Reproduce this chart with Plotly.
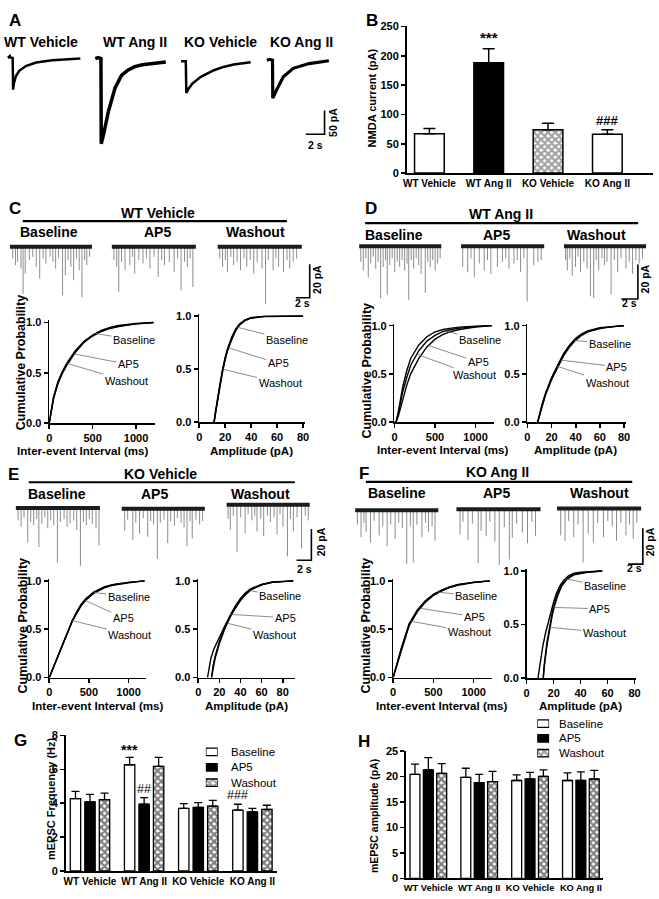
import numpy as np
import plotly.graph_objects as go

W, H = 659, 899
FONT = "Liberation Sans, Arial, Helvetica, sans-serif"

# ====================== DATA ======================
# Panel A: NMDA-evoked currents (time s, current pA)
a_titles = ["WT Vehicle", "WT Ang II", "KO Vehicle", "KO Ang II"]
a_wt_veh_t = [0, 0.2, 0.25, 0.5, 0.55, 0.62, 0.85, 1.2, 1.9, 3.0, 4.7, 6.4, 7.7]
a_wt_veh_i = [0, 4, 1, 0, -67, -55, -38, -27, -17, -9.5, -5, -2.5, -1]
a_wt_ang_t = [0, 0.3, 0.6, 0.63, 0.88, 1.4, 2.1, 2.8, 3.5, 4.2, 5.0, 6.0, 7.5]
a_wt_ang_i = [0, 2, 0, -180, -160, -111, -62, -35, -24, -17, -13, -10, -7]
a_ko_veh_t = [0, 0.35, 0.5, 0.56, 0.8, 1.2, 2.1, 3.5, 4.5, 5.6, 7.4]
a_ko_veh_i = [0, 0, 0, -67, -58, -47, -33, -19, -12, -7, -2]
a_ko_ang_t = [0, 0.3, 0.6, 0.63, 1.05, 1.75, 2.8, 4.5, 6.6]
a_ko_ang_i = [0, 2, 0, -80, -62, -35, -17, -7, -1]

# Panel B: NMDA current (pA)
groups = ["WT Vehicle", "WT Ang II", "KO Vehicle", "KO Ang II"]
b_mean = [67, 188, 74, 66]
b_sem = [9, 24, 11, 8]

# Panels C-F: mEPSC events (time s, amplitude pA) for Baseline / AP5 / Washout
c_base_t = [0.4, 0.8, 1.1, 1.6, 1.9, 2.2, 2.8, 3.3, 3.8, 4.3, 4.8, 5.2, 5.8, 6.2, 6.6, 7.0, 7.6, 8.0, 8.4, 8.8, 9.2, 9.6, 10.0, 10.4, 10.8, 11.1, 11.5]
c_base_a = [7, 11, 9, 13, 28, 16, 8, 6, 12, 19, 7, 10, 6, 9, 13, 7, 29, 17, 8, 12, 20, 7, 14, 30, 8, 11, 6]
c_ap5_t = [0.3, 0.7, 1.0, 1.4, 1.9, 2.6, 3.0, 3.3, 3.9, 4.5, 5.0, 5.5, 6.1, 6.7, 7.2, 7.6, 8.3, 9.0, 9.5, 10.0, 10.5, 10.9, 11.3, 11.7]
c_ap5_a = [8, 12, 27, 9, 14, 11, 6, 16, 8, 10, 7, 13, 6, 18, 8, 11, 9, 15, 7, 26, 9, 12, 7, 24]
c_wash_t = [0.3, 0.7, 1.1, 1.4, 1.9, 2.3, 2.8, 3.3, 3.8, 4.2, 4.7, 5.2, 5.7, 6.4, 6.9, 7.3, 8.0, 8.4, 8.8, 9.5, 10.0, 10.4, 10.9, 11.4]
c_wash_a = [7, 12, 8, 15, 6, 11, 9, 14, 7, 12, 8, 16, 9, 13, 34, 8, 14, 7, 12, 15, 8, 13, 9, 7]

d_base_t = [0.2, 0.5, 0.8, 1.1, 1.4, 1.7, 2.0, 2.3, 2.6, 2.9, 3.2, 3.4, 3.7, 4.0, 4.3, 4.6, 4.9, 5.2, 5.5, 5.8, 6.0, 6.3, 6.6, 6.9, 7.2, 7.5, 8.0, 8.3, 8.6, 8.9, 9.2, 9.5, 9.8]
d_base_a = [9, 14, 7, 18, 10, 6, 13, 9, 30, 12, 8, 28, 11, 7, 15, 9, 12, 8, 14, 10, 31, 8, 13, 7, 11, 16, 27, 9, 12, 8, 14, 10, 7]
d_ap5_t = [0.2, 0.8, 1.2, 1.6, 2.2, 2.8, 3.2, 3.6, 4.4, 5.0, 5.4, 5.8, 6.4, 6.8, 7.2, 7.6, 8.0, 8.8, 9.3, 9.7]
d_ap5_a = [12, 15, 7, 18, 10, 14, 8, 16, 12, 9, 7, 13, 10, 8, 15, 7, 32, 11, 9, 8]
d_wash_t = [0.2, 0.4, 0.7, 1.0, 1.4, 1.7, 2.0, 2.4, 2.8, 3.2, 3.6, 3.9, 4.2, 4.6, 4.9, 5.2, 5.7, 6.1, 6.5, 6.9, 7.5, 7.9, 8.3, 8.7, 9.1, 9.5]
d_wash_a = [8, 14, 7, 17, 12, 6, 15, 9, 13, 29, 30, 8, 14, 7, 11, 9, 28, 8, 15, 7, 13, 9, 16, 8, 10, 7]

e_base_t = [0.3, 0.7, 1.1, 1.6, 2.0, 2.4, 2.8, 3.1, 3.5, 3.9, 4.3, 4.7, 5.1, 5.6, 6.0, 6.5, 6.9, 7.3, 7.8, 8.2, 8.7, 9.1, 9.5, 9.9, 10.3, 10.8, 11.2]
e_base_a = [8, 12, 6, 22, 9, 11, 7, 25, 10, 6, 13, 8, 11, 35, 9, 7, 12, 10, 8, 14, 37, 9, 11, 7, 10, 13, 24]
e_ap5_t = [0.4, 0.8, 1.5, 1.9, 2.4, 2.9, 3.5, 3.9, 4.3, 4.8, 5.2, 5.7, 6.2, 6.6, 7.1, 7.5, 8.0, 8.4, 8.8, 9.2, 9.5, 10.0, 10.5, 10.9]
e_ap5_a = [14, 7, 20, 9, 16, 6, 18, 8, 10, 32, 9, 7, 22, 8, 11, 6, 9, 12, 24, 8, 19, 7, 10, 8]
e_wash_t = [0.2, 0.5, 0.9, 1.4, 1.9, 2.5, 2.9, 3.4, 3.8, 4.1, 4.6, 5.0, 5.5, 5.9, 6.4, 6.8, 7.2, 7.6, 8.2, 8.6, 9.0, 9.5, 10.1, 10.6, 11.0]
e_wash_a = [9, 16, 7, 30, 8, 18, 6, 10, 7, 17, 9, 20, 7, 11, 8, 19, 6, 14, 33, 9, 17, 8, 28, 7, 10]

f_base_t = [0.3, 0.8, 1.2, 1.5, 2.1, 2.6, 3.3, 3.8, 4.4, 4.9, 5.5, 6.0, 6.5, 7.1, 7.6, 8.0, 8.5, 9.2, 9.7, 10.1, 10.6, 11.0]
f_base_a = [8, 15, 7, 12, 18, 6, 14, 9, 20, 8, 16, 7, 10, 30, 9, 29, 8, 15, 7, 12, 9, 17]
f_ap5_t = [0.5, 0.9, 1.6, 2.2, 3.0, 3.4, 4.1, 4.6, 5.3, 5.9, 6.6, 7.3, 7.7, 8.3, 9.1, 9.8, 10.4, 10.9]
f_ap5_a = [14, 7, 17, 8, 30, 12, 15, 7, 18, 31, 10, 28, 16, 8, 13, 19, 7, 15]
f_wash_t = [0.5, 1.1, 1.6, 2.3, 2.9, 3.6, 4.3, 5.0, 5.6, 6.4, 7.0, 7.6, 8.2, 8.8, 9.5, 10.0, 10.5, 11.0]
f_wash_a = [15, 18, 7, 16, 9, 30, 14, 19, 8, 16, 7, 10, 18, 8, 15, 9, 17, 8]

# Cumulative probability curves
c_iei_x = [0, 25, 50, 100, 150, 200, 300, 400, 500, 600, 700, 800, 1000, 1200]
c_iei_base = [0, 0.14, 0.25, 0.40, 0.50, 0.58, 0.71, 0.81, 0.875, 0.92, 0.95, 0.97, 0.99, 1.0]
c_iei_ap5 = [0, 0.13, 0.24, 0.39, 0.49, 0.57, 0.70, 0.80, 0.865, 0.91, 0.94, 0.96, 0.985, 1.0]
c_iei_wash = [0, 0.15, 0.26, 0.41, 0.51, 0.59, 0.72, 0.81, 0.87, 0.915, 0.945, 0.965, 0.985, 0.995]
c_amp_x = [11.5, 12, 14, 16, 18, 20, 22, 25, 28, 31, 35, 40, 50, 80]
c_amp_base = [0, 0.05, 0.2, 0.35, 0.49, 0.6, 0.69, 0.79, 0.87, 0.92, 0.96, 0.985, 0.997, 1.0]
c_amp_ap5 = [0, 0.04, 0.19, 0.34, 0.48, 0.59, 0.68, 0.78, 0.86, 0.915, 0.955, 0.98, 0.995, 1.0]
c_amp_wash = [0, 0.06, 0.21, 0.36, 0.5, 0.61, 0.7, 0.8, 0.875, 0.925, 0.962, 0.985, 0.997, 1.0]

d_iei_x = [0, 20, 50, 100, 150, 200, 300, 400, 500, 600, 700, 800, 1000, 1200]
d_iei_base = [0, 0, 0.12, 0.36, 0.53, 0.66, 0.80, 0.885, 0.935, 0.96, 0.975, 0.985, 0.995, 1.0]
d_iei_ap5 = [0, 0, 0.07, 0.24, 0.38, 0.50, 0.66, 0.78, 0.86, 0.91, 0.94, 0.96, 0.985, 1.0]
d_iei_wash = [0, 0, 0.10, 0.31, 0.46, 0.59, 0.74, 0.84, 0.90, 0.94, 0.96, 0.975, 0.99, 1.0]
d_amp_x = [8.5, 10, 12, 15, 20, 25, 30, 35, 40, 45, 50, 60, 70, 80]
d_amp_base = [0, 0.07, 0.17, 0.29, 0.45, 0.58, 0.70, 0.79, 0.86, 0.91, 0.94, 0.975, 0.99, 1.0]
d_amp_ap5 = [0, 0.06, 0.16, 0.28, 0.44, 0.57, 0.69, 0.78, 0.85, 0.90, 0.935, 0.97, 0.99, 1.0]
d_amp_wash = [0, 0.08, 0.18, 0.30, 0.46, 0.59, 0.71, 0.80, 0.87, 0.915, 0.945, 0.978, 0.992, 1.0]

e_iei_x = [0, 100, 200, 290, 350, 400, 460, 560, 700, 800, 1000, 1200]
e_iei_base = [0, 0.2, 0.4, 0.585, 0.68, 0.75, 0.81, 0.88, 0.935, 0.96, 0.985, 1.0]
e_iei_ap5 = [0, 0.2, 0.4, 0.58, 0.67, 0.74, 0.80, 0.87, 0.93, 0.955, 0.98, 1.0]
e_iei_wash = [0, 0.21, 0.41, 0.59, 0.685, 0.755, 0.815, 0.885, 0.94, 0.962, 0.985, 1.0]
e_amp_xa = [8.8, 10, 12, 15, 20, 25, 30, 35, 40, 45, 50, 60, 70, 90]
e_amp_base = [0, 0.08, 0.2, 0.3, 0.42, 0.53, 0.63, 0.72, 0.8, 0.86, 0.91, 0.96, 0.985, 1.0]
e_amp_xb = [12.6, 14, 16, 20, 25, 30, 35, 40, 45, 50, 60, 70, 90]
e_amp_ap5 = [0, 0.12, 0.22, 0.37, 0.52, 0.64, 0.74, 0.82, 0.88, 0.92, 0.965, 0.99, 1.0]
e_amp_wash = [0, 0.1, 0.2, 0.35, 0.5, 0.62, 0.72, 0.8, 0.87, 0.91, 0.96, 0.985, 1.0]

f_iei_x = [0, 50, 100, 150, 200, 300, 400, 500, 600, 700, 800, 1000, 1200]
f_iei_base = [0, 0.15, 0.29, 0.42, 0.55, 0.69, 0.79, 0.855, 0.9, 0.935, 0.96, 0.985, 1.0]
f_iei_ap5 = [0, 0.14, 0.28, 0.41, 0.54, 0.68, 0.78, 0.85, 0.895, 0.93, 0.955, 0.982, 1.0]
f_iei_wash = [0, 0.16, 0.30, 0.43, 0.56, 0.70, 0.795, 0.86, 0.905, 0.938, 0.962, 0.987, 1.0]
f_amp_xa = [8.4, 10, 12, 14, 16, 18, 20, 22, 25, 28, 31, 35, 40, 56]
f_amp_base = [0, 0.15, 0.3, 0.42, 0.52, 0.62, 0.71, 0.79, 0.87, 0.92, 0.955, 0.98, 0.99, 1.0]
f_amp_xb = [12.3, 13, 15, 17, 19, 21, 23, 26, 30, 35, 45, 56]
f_amp_ap5 = [0, 0.12, 0.33, 0.49, 0.61, 0.71, 0.79, 0.87, 0.93, 0.97, 0.99, 1.0]
f_amp_wash = [0, 0.1, 0.3, 0.46, 0.59, 0.69, 0.77, 0.86, 0.925, 0.965, 0.988, 1.0]

# Panel G: mEPSC frequency (Hz)
g_base = [4.27, 6.27, 3.69, 3.59]
g_base_sem = [0.43, 0.43, 0.29, 0.35]
g_ap5 = [4.08, 3.94, 3.75, 3.49]
g_ap5_sem = [0.44, 0.39, 0.29, 0.20]
g_wash = [4.21, 6.17, 3.83, 3.63]
g_wash_sem = [0.39, 0.53, 0.34, 0.25]

# Panel H: mEPSC amplitude (pA)
h_base = [20.4, 19.8, 19.2, 19.2]
h_base_sem = [2.0, 1.8, 1.1, 1.5]
h_ap5 = [21.3, 18.8, 19.5, 19.2]
h_ap5_sem = [2.4, 1.6, 1.3, 1.7]
h_wash = [20.6, 19.0, 20.0, 19.5]
h_wash_sem = [1.9, 2.0, 1.3, 1.7]

cond_names = ["Baseline", "AP5", "Washout"]

# ====================== HELPERS ======================
fig = go.Figure()
layout = {}
ann = []
shapes = []
n_axes = [0]

AXS = dict(showline=True, linecolor='black', linewidth=1.6, ticks='outside', ticklen=4,
           tickwidth=1.6, tickcolor='black',
           tickfont=dict(family=FONT, size=11, color='black', weight='bold'))


def cat_style(size):
    return dict(AXS, ticks='', type='category', tickangle=0,
                tickfont=dict(family=FONT, size=size, color='black', weight='bold'))


CHECK = dict(shape='x', fgcolor='black', bgcolor='white', size=5, solidity=0.7)


def new_axes(left, top, right, bottom, xr, yr, xstyle=None, ystyle=None):
    n_axes[0] += 1
    n = n_axes[0]
    s = '' if n == 1 else str(n)
    xa = dict(domain=[left / W, right / W], range=xr, anchor='y' + s, fixedrange=True,
              showgrid=False, zeroline=False)
    ya = dict(domain=[1 - bottom / H, 1 - top / H], range=yr, anchor='x' + s, fixedrange=True,
              showgrid=False, zeroline=False)
    if xstyle is None:
        xa['visible'] = False
    else:
        xa.update(xstyle)
    if ystyle is None:
        ya['visible'] = False
    else:
        ya.update(ystyle)
    layout['xaxis' + s] = xa
    layout['yaxis' + s] = ya
    return 'x' + s, 'y' + s


def scaled_axes(left, top, right, bottom, x0, y0, spx, ppx):
    xr = [(left - x0) / spx, (right - x0) / spx]
    yr = [-(bottom - y0) / ppx, (y0 - top) / ppx]
    return new_axes(left, top, right, bottom, xr, yr)


def line(xa, ya, x, y, color='black', width=1.5):
    fig.add_trace(go.Scatter(x=x, y=y, mode='lines', line=dict(color=color, width=width),
                             xaxis=xa, yaxis=ya, showlegend=False, hoverinfo='skip'))


def ptext(x, y, s, size=12, bold=True, angle=0, xanchor='center', yanchor='middle', color='black'):
    ann.append(dict(x=x / W, y=1 - y / H, xref='paper', yref='paper', text=s, showarrow=False,
                    textangle=angle, xanchor=xanchor, yanchor=yanchor,
                    font=dict(family=FONT, size=size, color=color,
                              weight='bold' if bold else 'normal')))


def hline(x0, x1, y, width=2.2):
    shapes.append(dict(type='line', xref='paper', yref='paper', x0=x0 / W, x1=x1 / W,
                       y0=1 - y / H, y1=1 - y / H, line=dict(color='black', width=width)))


def events_trace(left, right, base, spx, ppx, t, a, dur):
    xa, ya = scaled_axes(left - 2, base - 10, right + 2, base + 70, left, base, spx, ppx)
    xs, ys = [], []
    for ti, ai in zip(t, a):
        xs += [ti, ti, None]
        ys += [0, -ai, None]
    line(xa, ya, xs, ys, color='#8c8c8c', width=1)
    line(xa, ya, [0, dur], [0, 0], color='#1c1c1c', width=4)


def scale_bar(cx, cy, spx, ppx, tsec, amp, tlabel_xy, alabel_xy):
    xa, ya = scaled_axes(cx - spx * tsec - 4, cy - ppx * amp - 4, cx + 4, cy + 4,
                         cx - spx * tsec, cy, spx, ppx)
    line(xa, ya, [0, tsec, tsec], [0, 0, amp], color='black', width=1.6)
    ptext(tlabel_xy[0], tlabel_xy[1], f"{tsec:g} s", size=10.5)
    ptext(alabel_xy[0], alabel_xy[1], f"{amp:g} pA", size=10.5, angle=-90)


def cdf_axes(x0px, x1px, y0px, y1px, xmax, xt):
    pad = 2
    ppu_y = (y0px - y1px)
    ppu_x = (x1px - x0px) / xmax
    xa, ya = new_axes(x0px, y1px - pad, x1px + pad, y0px,
                      [0, xmax + pad / ppu_x], [0, 1 + pad / ppu_y],
                      xstyle=dict(AXS, tickvals=xt), ystyle=dict(AXS, tickvals=[0, 0.5, 1], tickformat='.1f'))
    conv = lambda px, py: ((px - x0px) / ppu_x, (y0px - py) / ppu_y)
    return xa, ya, conv


def cdf_panel(x0px, x1px, y0px, y1px, xmax, xt, curves, labels):
    xa, ya, conv = cdf_axes(x0px, x1px, y0px, y1px, xmax, xt)
    for cx, cy in curves:
        line(xa, ya, cx, cy, color='black', width=1.4)
    for (name, (cx, cy), xpt, tx, ty) in labels:
        axd, ayd = conv(tx, ty)
        ann.append(dict(x=xpt, y=float(np.interp(xpt, cx, cy)), xref=xa, yref=ya,
                        ax=axd, ay=ayd, axref=xa, ayref=ya, text=name, showarrow=True,
                        arrowhead=0, arrowwidth=0.8, arrowcolor='#6e6e6e', standoff=0,
                        font=dict(family=FONT, size=11, color='black')))


def swatch_legend(left, first_y, spacing, text_x):
    n = len(cond_names)
    top = first_y - spacing / 2
    bottom = top + spacing * n
    xa, ya = new_axes(left, top, left + 12, bottom, [0, 1], [n - 0.5, -0.5])
    fig.add_trace(go.Bar(x=[1] * n, y=list(range(n)), base=0, orientation='h', width=7.5 / spacing,
                         xaxis=xa, yaxis=ya, showlegend=False, hoverinfo='skip',
                         marker=dict(color=['white', 'black', 'white'], line=dict(color='black', width=1.3),
                                     pattern=dict(shape=['', '', CHECK['shape']], fgcolor='black', bgcolor='white',
                                                  size=CHECK['size'], solidity=CHECK['solidity']))))
    for i, name in enumerate(cond_names):
        ptext(text_x, first_y + i * spacing, name, size=11.5, bold=False, xanchor='left')


# ====================== PANEL A ======================
A_SPX, A_PPX = 9.5, 0.48
a_traces = [(a_wt_veh_t, a_wt_veh_i, 5, 52.7, 2.5), (a_wt_ang_t, a_wt_ang_i, 93.3, 53.3, 3.5),
            (a_ko_veh_t, a_ko_veh_i, 180, 56, 2.5), (a_ko_ang_t, a_ko_ang_i, 266.7, 55, 3.2)]
for (tt, ii, x0, y0, wd) in a_traces:
    xa, ya = scaled_axes(x0 - 3, y0 - 12, x0 + 80, y0 + 95, x0, y0, A_SPX, A_PPX)
    line(xa, ya, tt, ii, color='black', width=wd)
for name, cx in zip(a_titles, [38, 133.3, 219.7, 302]):
    ptext(cx, 36, name, size=14)
scale_bar(325, 130, A_SPX, A_PPX, 2, 50, (316, 141), (334, 118))
ptext(12.5, 14.5, "A", size=17)

# ====================== PANEL B ======================
xb, yb = new_axes(408, 20.7, 657, 169.3, [-0.383, 3.77], [0, 250],
                  xstyle=cat_style(10), ystyle=dict(AXS, tickvals=[0, 50, 100, 150, 200, 250]))
b_fill = ['white', 'black', 'white', 'white']
b_pat = ['', '', CHECK['shape'], '']
fig.add_trace(go.Bar(x=groups, y=b_mean, width=0.5, xaxis=xb, yaxis=yb, showlegend=False,
                     marker=dict(color=b_fill, line=dict(color='black', width=1.5),
                                 pattern=dict(shape=b_pat, fgcolor='black', bgcolor='white',
                                              size=CHECK['size'], solidity=CHECK['solidity'])),
                     error_y=dict(type='data', array=b_sem, arrayminus=[0] * 4, symmetric=False,
                                  color='black', thickness=1.5, width=6)))
ann.append(dict(x=1, y=b_mean[1] + b_sem[1], xref=xb, yref=yb, text="***", showarrow=False,
                yanchor='bottom', yshift=1, font=dict(family=FONT, size=15, color='black', weight='bold')))
ann.append(dict(x=3, y=b_mean[3] + b_sem[3], xref=xb, yref=yb, text="###", showarrow=False,
                yanchor='bottom', yshift=0, font=dict(family=FONT, size=13, color='black', weight='bold')))
ptext(373.3, 93.3, "NMDA current (pA)", size=11, angle=-90)
ptext(372.5, 14.5, "B", size=17)

# ====================== PANELS C-F ======================
panels = [
    dict(letter="C", lxy=(12.5, 205), title="WT Vehicle", txy=(157, 210), line=(20, 287, 218),
         sub_y=229, sub_x=[46.7, 155.8, 255.3], spx=7.0, ppx=1.7,
         tr=[(7, 90, 244, c_base_t, c_base_a), (110, 195, 244, c_ap5_t, c_ap5_a), (217, 302, 244, c_wash_t, c_wash_a)],
         sb=(310, 295.7, (303, 301.5), (318, 277))),
    dict(letter="D", lxy=(372.2, 205.5), title="WT Ang II", txy=(503.3, 211.3), line=(366, 642, 220),
         sub_y=232.5, sub_x=[394.7, 498.3, 599.7], spx=8.35, ppx=1.75,
         tr=[(360, 443, 243.5, d_base_t, d_base_a), (463, 547, 243.5, d_ap5_t, d_ap5_a), (567, 650, 243.5, d_wash_t, d_wash_a)],
         sb=(641.7, 297, (633, 301.5), (649, 277))),
    dict(letter="E", lxy=(10.8, 474.5), title="KO Vehicle", txy=(159.2, 474.7), line=(26, 295, 482.7),
         sub_y=494.7, sub_x=[54.2, 153.3, 260], spx=7.5, ppx=1.585,
         tr=[(13, 98, 508.8, e_base_t, e_base_a), (120, 204, 509.5, e_ap5_t, e_ap5_a), (226, 310, 505.5, e_wash_t, e_wash_a)],
         sb=(311.7, 561.7, (305, 570.5), (321, 543))),
    dict(letter="F", lxy=(364.7, 473.7), title="KO Ang II", txy=(500, 472.8), line=(366.7, 636, 482.3),
         sub_y=493.5, sub_x=[398.3, 498.3, 602.5], spx=7.33, ppx=1.82,
         tr=[(356, 440, 511, f_base_t, f_base_a), (458.3, 543.3, 510, f_ap5_t, f_ap5_a), (560, 645, 509.3, f_wash_t, f_wash_a)],
         sb=(646.7, 565.7, (638.5, 569.5), (654, 543.5))),
]
for p in panels:
    ptext(p['lxy'][0], p['lxy'][1], p['letter'], size=17)
    ptext(p['txy'][0], p['txy'][1], p['title'], size=14)
    hline(p['line'][0], p['line'][1], p['line'][2])
    for name, sx in zip(cond_names, p['sub_x']):
        ptext(sx, p['sub_y'], name, size=14)
    for (l, r, base, t, a) in p['tr']:
        events_trace(l, r, base, p['spx'], p['ppx'], t, a, (r - l) / p['spx'])
    cx, cy, tl, al = p['sb']
    scale_bar(cx, cy, p['spx'], p['ppx'], 2, 20, tl, al)

cdf_panel(46.7, 152, 422.7, 320.7, 1200, [0, 500, 1000],
          [(c_iei_x, c_iei_base), (c_iei_x, c_iei_ap5), (c_iei_x, c_iei_wash)],
          [("Baseline", (c_iei_x, c_iei_base), 533, 132.5, 338.3),
           ("AP5", (c_iei_x, c_iei_ap5), 290, 126.7, 363.3),
           ("Washout", (c_iei_x, c_iei_wash), 203, 124.7, 380)])
cdf_panel(198.3, 303.3, 421.7, 314.3, 80, [0, 20, 40, 60, 80],
          [(c_amp_x, c_amp_base), (c_amp_x, c_amp_ap5), (c_amp_x, c_amp_wash)],
          [("Baseline", (c_amp_x, c_amp_base), 29.5, 287, 338.3),
           ("AP5", (c_amp_x, c_amp_ap5), 22.6, 278.3, 362.3),
           ("Washout", (c_amp_x, c_amp_wash), 18, 280, 382.3)])
cdf_panel(395.7, 494, 421.7, 324, 1200, [0, 500, 1000],
          [(d_iei_x, d_iei_base), (d_iei_x, d_iei_ap5), (d_iei_x, d_iei_wash)],
          [("Baseline", (d_iei_x, d_iei_base), 580, 482.2, 338.3),
           ("AP5", (d_iei_x, d_iei_ap5), 418, 480.5, 361),
           ("Washout", (d_iei_x, d_iei_wash), 276, 476.2, 374.3)])
cdf_panel(530, 627.7, 421.7, 324, 80, [0, 20, 40, 60, 80],
          [(d_amp_x, d_amp_base), (d_amp_x, d_amp_ap5), (d_amp_x, d_amp_wash)],
          [("Baseline", (d_amp_x, d_amp_base), 39, 613.3, 342.3),
           ("AP5", (d_amp_x, d_amp_ap5), 28, 620.5, 365.7),
           ("Washout", (d_amp_x, d_amp_wash), 24.6, 610.5, 381.7)])
cdf_panel(46.7, 143, 680.7, 582.7, 1200, [0, 500, 1000],
          [(e_iei_x, e_iei_base), (e_iei_x, e_iei_ap5), (e_iei_x, e_iei_wash)],
          [("Baseline", (e_iei_x, e_iei_base), 562, 127, 599),
           ("AP5", (e_iei_x, e_iei_ap5), 457, 121.7, 620),
           ("Washout", (e_iei_x, e_iei_wash), 290, 128.3, 637.3)])
cdf_panel(197.3, 293.4, 680.7, 582.7, 90, [0, 20, 40, 60, 80],
          [(e_amp_xa, e_amp_base), (e_amp_xb, e_amp_ap5), (e_amp_xb, e_amp_wash)],
          [("Baseline", (e_amp_xa, e_amp_base), 49, 280.3, 598.3),
           ("AP5", (e_amp_xb, e_amp_ap5), 30.7, 285.3, 620),
           ("Washout", (e_amp_xb, e_amp_wash), 27.6, 274.2, 637.3)])
cdf_panel(394.3, 492, 680.7, 582.7, 1200, [0, 500, 1000],
          [(f_iei_x, f_iei_base), (f_iei_x, f_iei_ap5), (f_iei_x, f_iei_wash)],
          [("Baseline", (f_iei_x, f_iei_base), 561, 478.3, 597.7),
           ("AP5", (f_iei_x, f_iei_ap5), 337, 476.7, 619),
           ("Washout", (f_iei_x, f_iei_wash), 217, 471.3, 634.3)])
cdf_panel(529.3, 638.3, 681, 572.7, 80, [0, 20, 40, 60, 80],
          [(f_amp_xa, f_amp_base), (f_amp_xb, f_amp_ap5), (f_amp_xb, f_amp_wash)],
          [("Baseline", (f_amp_xa, f_amp_base), 28.6, 608.8, 588.3),
           ("AP5", (f_amp_xb, f_amp_ap5), 20, 603.3, 611),
           ("Washout", (f_amp_xb, f_amp_wash), 17.2, 608, 635)])

for (x, y) in [(18.3, 362), (368.3, 370), (20, 628), (366.7, 628)]:
    ptext(x, y, "Cumulative Probability", size=12.5, angle=-90)
for (x, y) in [(80.8, 451), (445, 450), (95.8, 709), (443.3, 709)]:
    ptext(x, y, "Inter-event Interval (ms)", size=11.6)
for (x, y) in [(251.3, 451), (578.3, 450), (246, 709), (584.2, 709)]:
    ptext(x, y, "Amplitude (pA)", size=11.6)


# ====================== PANELS G & H ======================
def grouped(xa, ya, series, unit_shift, bw, capw):
    styles = [dict(color='white', pattern=dict(shape='')),
              dict(color='black', pattern=dict(shape='')),
              dict(color='white', pattern=CHECK)]
    for k, (name, vals, sems) in enumerate(series):
        st = styles[k]
        fig.add_trace(go.Bar(x=groups, y=vals, width=bw, offset=(k - 1) * unit_shift - bw / 2,
                             name=name, showlegend=False, xaxis=xa, yaxis=ya,
                             marker=dict(color=st['color'], line=dict(color='black', width=1.3),
                                         pattern=st['pattern']),
                             error_y=dict(type='data', array=sems, arrayminus=[0] * 4, symmetric=False,
                                          color='black', thickness=1.3, width=capw)))


xg, yg = new_axes(63.3, 739.3, 276.7, 876.7, [-0.45, 3.45], [0, 8],
                  xstyle=cat_style(10), ystyle=dict(AXS, tickvals=[0, 2, 4, 6, 8]))
G_SHIFT = 0.268
grouped(xg, yg, [("Baseline", g_base, g_base_sem), ("AP5", g_ap5, g_ap5_sem), ("Washout", g_wash, g_wash_sem)],
        G_SHIFT, 0.192, 4)
ann.append(dict(x=1 - G_SHIFT, y=g_base[1] + g_base_sem[1], xref=xg, yref=yg, text="***", showarrow=False,
                yanchor='bottom', yshift=-3, font=dict(family=FONT, size=14, color='black', weight='bold')))
ann.append(dict(x=1, y=g_ap5[1] + g_ap5_sem[1], xref=xg, yref=yg, text="##", showarrow=False,
                yanchor='bottom', yshift=0, font=dict(family=FONT, size=12.5, color='black')))
ann.append(dict(x=3 - G_SHIFT, y=g_base[3] + g_base_sem[3], xref=xg, yref=yg, text="###", showarrow=False,
                yanchor='bottom', yshift=0, font=dict(family=FONT, size=12.5, color='black')))
ptext(48.3, 803, "mEPSC Frequency (Hz)", size=11, angle=-90)
ptext(17.5, 744, "G", size=17)
swatch_legend(205, 756, 15.6, 228)

xh, yh = new_axes(407.3, 755, 606.7, 884.3, [-0.44, 3.44], [0, 25],
                  xstyle=cat_style(9.3), ystyle=dict(AXS, tickvals=[0, 5, 10, 15, 20, 25]))
grouped(xh, yh, [("Baseline", h_base, h_base_sem), ("AP5", h_ap5, h_ap5_sem), ("Washout", h_wash, h_wash_sem)],
        0.263, 0.195, 4)
ptext(375, 821, "mEPSC amplitude (pA)", size=10.5, angle=-90)
ptext(364.5, 745.8, "H", size=17)
swatch_legend(540, 727.3, 15.0, 560)

fig.update_layout(**layout)
fig.update_layout(width=W, height=H, margin=dict(l=0, r=0, t=0, b=0), autosize=False,
                  paper_bgcolor='white', plot_bgcolor='rgba(0,0,0,0)', barmode='overlay',
                  showlegend=False, annotations=ann, shapes=shapes,
                  font=dict(family=FONT, color='black'))
fig.write_html("out.html", config={'displayModeBar': False, 'staticPlot': True},
               post_script="document.body.style.margin='0px';document.body.style.overflow='hidden';")
